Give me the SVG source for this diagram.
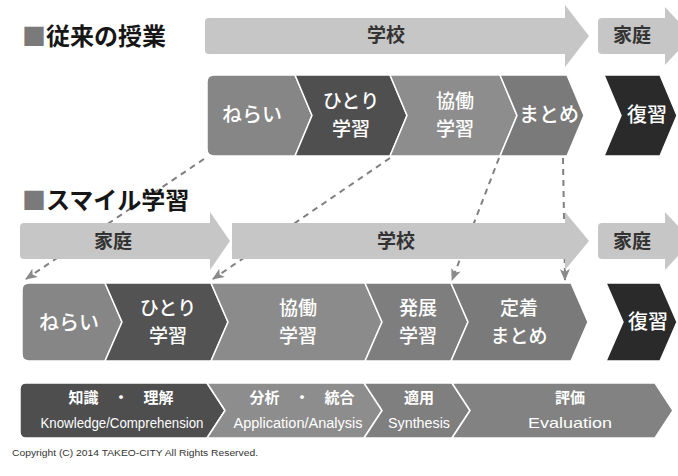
<svg xmlns="http://www.w3.org/2000/svg" width="678" height="476" viewBox="0 0 678 476">
<defs>
<style>
.title{font-family:"Noto Sans CJK JP","Noto Sans",sans-serif;font-size:24px;font-weight:bold;fill:#161616}
.sq{fill:#7a7a7a}
.arr{fill:#c6c6c6}
.alab{font-family:"Noto Sans CJK JP",sans-serif;font-size:19px;font-weight:bold;fill:#333;text-anchor:middle}
.chev{stroke:#fff;stroke-width:1.5;stroke-linejoin:round}
.clab{font-family:"Noto Sans CJK JP",sans-serif;font-size:20px;font-weight:500;fill:#fff;text-anchor:middle}
.clab2{font-family:"Noto Sans CJK JP",sans-serif;font-size:19px;font-weight:500;fill:#fff;text-anchor:middle}
.jlab{font-family:"Noto Sans CJK JP",sans-serif;font-size:15px;font-weight:bold;fill:#fff;text-anchor:middle}
.elab{font-family:"Liberation Sans",Arial,sans-serif;font-size:14px;fill:#fff;text-anchor:middle}
.conn{fill:none;stroke:#808080;stroke-width:2;stroke-dasharray:6 5}
.copy{font-family:"Liberation Sans",Arial,sans-serif;font-size:8.5px;fill:#333}
</style>
<marker id="ah" viewBox="0 0 12 10" refX="11" refY="5" markerWidth="12" markerHeight="10" markerUnits="userSpaceOnUse" orient="auto">
<path d="M0,0 L12,5 L0,10 L3,5 Z" fill="#8a8a8a"/>
</marker>
</defs>
<rect width="678" height="476" fill="#fff"/>

<g id="connectors">
<line class="conn" x1="204" y1="159" x2="26" y2="279" marker-end="url(#ah)"/>
<line class="conn" x1="390" y1="158" x2="213" y2="279" marker-end="url(#ah)"/>
<line class="conn" x1="499" y1="158" x2="452" y2="280" marker-end="url(#ah)"/>
<line class="conn" x1="563" y1="158" x2="565" y2="280" marker-end="url(#ah)"/>
</g>

<g id="title1">
<text class="title" x="22" y="45"><tspan class="sq">■</tspan>従来の授業</text>
</g>
<g id="title2">
<text class="title" x="22" y="209"><tspan class="sq">■</tspan>スマイル学習</text>
</g>

<g id="arrow-school-1">
<path class="arr" d="M209,18 L565,18 L565,5 L589,36 L565,67 L565,54 L209,54 Q205,54 205,50 L205,22 Q205,18 209,18 Z"/>
<text class="alab" x="386" y="42">学校</text>
</g>
<g id="arrow-home-1">
<path class="arr" d="M602,18 L665,18 L665,7 L692,36 L665,65 L665,54 L602,54 Q598,54 598,50 L598,22 Q598,18 602,18 Z"/>
<text class="alab" x="632" y="42">家庭</text>
</g>

<g id="arrow-home-2">
<path class="arr" d="M24,223 L210,223 L210,212 L230,241 L210,270 L210,259 L24,259 Q20,259 20,255 L20,227 Q20,223 24,223 Z"/>
<text class="alab" x="113" y="248">家庭</text>
</g>
<g id="arrow-school-2">
<path class="arr" d="M232,223 L565,223 L565,212 L589,241 L565,270 L565,259 L232,259 Z"/>
<text class="alab" x="396" y="248">学校</text>
</g>
<g id="arrow-home-3">
<path class="arr" d="M602,223 L665,223 L665,212 L692,241 L665,270 L665,259 L602,259 Q598,259 598,255 L598,227 Q598,223 602,223 Z"/>
<text class="alab" x="632" y="248">家庭</text>
</g>

<g id="r1-nerai">
<path class="chev" fill="#868686" d="M214,75 L295,75 L312,115.5 L295,156 L214,156 Q207,156 207,149 L207,82 Q207,75 214,75 Z"/>
<text class="clab" x="252" y="122">ねらい</text>
</g>
<g id="r1-hitori">
<path class="chev" fill="#4f4f4f" d="M295,75 L390,75 L407,115.5 L390,156 L295,156 L312,115.5 Z"/>
<text class="clab2" x="351" y="108">ひとり<tspan x="351" dy="28">学習</tspan></text>
</g>
<g id="r1-kyodo">
<path class="chev" fill="#8d8d8d" d="M390,75 L500,75 L517,115.5 L500,156 L390,156 L407,115.5 Z"/>
<text class="clab2" x="455" y="108">協働<tspan x="455" dy="28">学習</tspan></text>
</g>
<g id="r1-matome">
<path class="chev" fill="#7a7a7a" d="M500,75 L567,75 L584,115.5 L567,156 L500,156 L517,115.5 Z"/>
<text class="clab" x="549" y="122">まとめ</text>
</g>
<g id="r1-fukushu">
<path class="chev" fill="#2a2a2a" d="M604,75 L660,75 L677,115.5 L660,156 L604,156 L621,115.5 Z"/>
<text class="clab" x="647" y="122">復習</text>
</g>

<g id="r2-nerai">
<path class="chev" fill="#868686" d="M29,283 L105,283 L122,322 L105,361 L29,361 Q22,361 22,354 L22,290 Q22,283 29,283 Z"/>
<text class="clab" x="69" y="330">ねらい</text>
</g>
<g id="r2-hitori">
<path class="chev" fill="#535353" d="M105,283 L211,283 L228,322 L211,361 L105,361 L122,322 Z"/>
<text class="clab2" x="168" y="315">ひとり<tspan x="168" dy="28">学習</tspan></text>
</g>
<g id="r2-kyodo">
<path class="chev" fill="#8b8b8b" d="M211,283 L365,283 L382,322 L365,361 L211,361 L228,322 Z"/>
<text class="clab2" x="298" y="315">協働<tspan x="298" dy="28">学習</tspan></text>
</g>
<g id="r2-hatten">
<path class="chev" fill="#7e7e7e" d="M365,283 L451,283 L468,322 L451,361 L365,361 L382,322 Z"/>
<text class="clab2" x="418" y="315">発展<tspan x="418" dy="28">学習</tspan></text>
</g>
<g id="r2-teichaku">
<path class="chev" fill="#7a7a7a" d="M451,283 L571,283 L588,322 L571,361 L451,361 L468,322 Z"/>
<text class="clab2" x="519" y="315">定着<tspan x="519" dy="28">まとめ</tspan></text>
</g>
<g id="r2-fukushu">
<path class="chev" fill="#2a2a2a" d="M606,283 L660,283 L677,322 L660,361 L606,361 L623,322 Z"/>
<text class="clab" x="648" y="329">復習</text>
</g>

<g id="r3-knowledge">
<path class="chev" fill="#4e4e4e" d="M26,383 L207,383 L225,410.5 L207,438 L26,438 Q20,438 20,432 L20,389 Q20,383 26,383 Z"/>
<text class="jlab" x="121" y="403">知識　・　理解</text>
<text class="elab" x="122" y="428" textLength="163" lengthAdjust="spacingAndGlyphs">Knowledge/Comprehension</text>
</g>
<g id="r3-analysis">
<path class="chev" fill="#8d8d8d" d="M207,383 L364,383 L382,410.5 L364,438 L207,438 L225,410.5 Z"/>
<text class="jlab" x="302" y="403">分析　・　統合</text>
<text class="elab" x="298" y="428" textLength="129" lengthAdjust="spacingAndGlyphs">Application/Analysis</text>
</g>
<g id="r3-synthesis">
<path class="chev" fill="#7f7f7f" d="M364,383 L452,383 L470,410.5 L452,438 L364,438 L382,410.5 Z"/>
<text class="jlab" x="419" y="403">適用</text>
<text class="elab" x="419" y="428" textLength="62" lengthAdjust="spacingAndGlyphs">Synthesis</text>
</g>
<g id="r3-evaluation">
<path class="chev" fill="#828282" d="M452,383 L655,383 L673,410.5 L655,438 L452,438 L470,410.5 Z"/>
<text class="jlab" x="570" y="403">評価</text>
<text class="elab" x="570" y="428" style="font-size:15px" textLength="84" lengthAdjust="spacingAndGlyphs">Evaluation</text>
</g>

<text class="copy" x="12" y="456" textLength="246" lengthAdjust="spacingAndGlyphs">Copyright (C) 2014 TAKEO-CITY  All Rights Reserved.</text>
</svg>
